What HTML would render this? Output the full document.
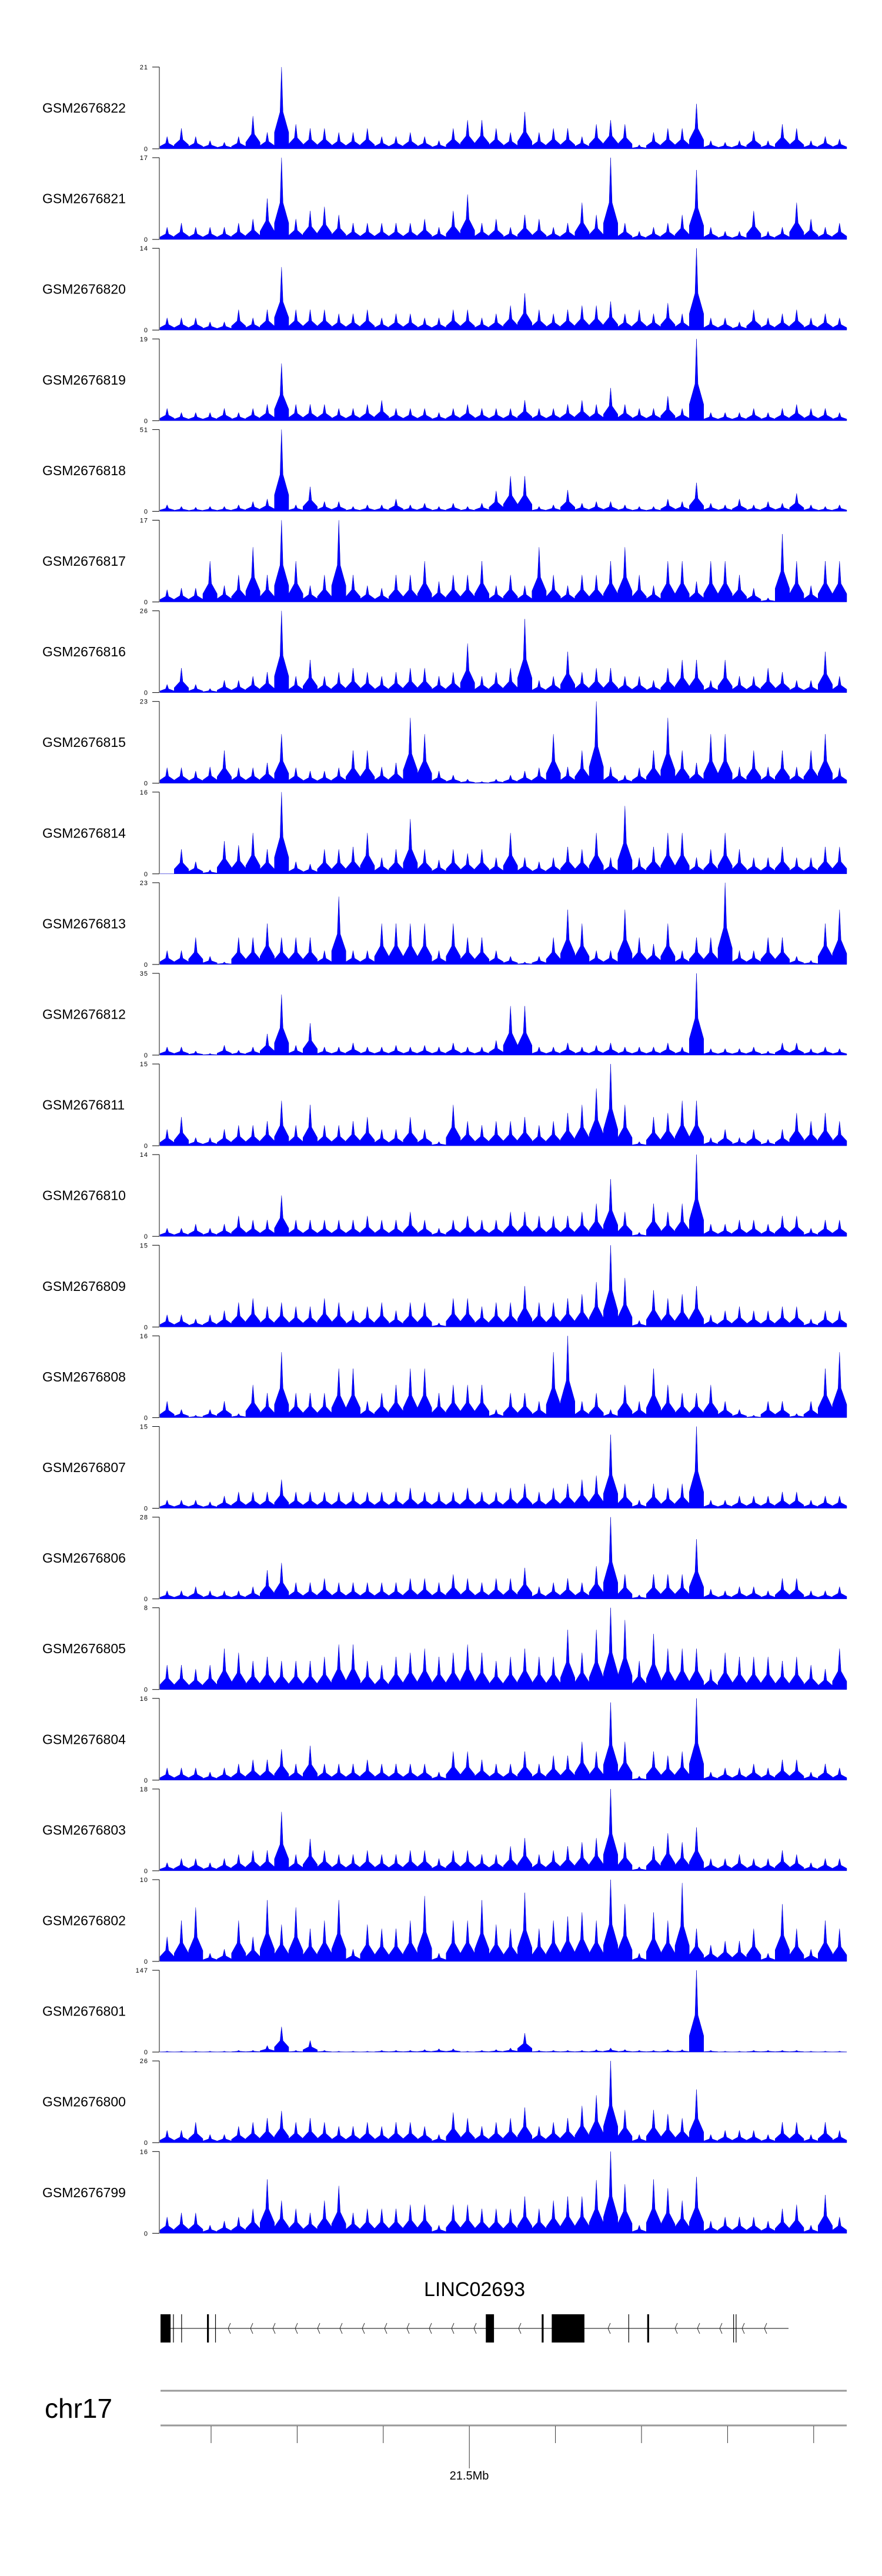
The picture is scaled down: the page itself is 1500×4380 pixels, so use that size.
<!DOCTYPE html>
<html><head><meta charset="utf-8"><style>
html,body{margin:0;padding:0;background:#fff;}
svg{display:block;font-family:"Liberation Sans",sans-serif;}
</style></head><body>
<svg id="chart" width="1500" height="4380" viewBox="0 0 1500 4380" xmlns="http://www.w3.org/2000/svg">
<g id="tracks"></g>
<g id="gene">
<text x="807" y="3904" font-size="34" text-anchor="middle" fill="#000">LINC02693</text>
<line x1="273" y1="3959" x2="1341" y2="3959" stroke="#000" stroke-width="1"/>
</g>
<g id="axis">
<text x="76" y="4111" font-size="46" fill="#000">chr17</text>
<line x1="273" y1="4065" x2="1440" y2="4065" stroke="#999" stroke-width="3"/>
<line x1="273" y1="4124" x2="1440" y2="4124" stroke="#999" stroke-width="3"/>
<text x="798" y="4216" font-size="20" text-anchor="middle" fill="#000">21.5Mb</text>
</g>
</svg>
<script>
const sampleNames=["GSM2676822","GSM2676821","GSM2676820","GSM2676819","GSM2676818","GSM2676817","GSM2676816","GSM2676815","GSM2676814","GSM2676813","GSM2676812","GSM2676811","GSM2676810","GSM2676809","GSM2676808","GSM2676807","GSM2676806","GSM2676805","GSM2676804","GSM2676803","GSM2676802","GSM2676801","GSM2676800","GSM2676799"];
const yMaxes=[21,17,14,19,51,17,26,23,16,23,35,15,14,15,16,15,28,8,16,18,10,147,26,16];
// binned signal (tenths of track max) per sample
const s822=[1.5,2.5,1.5,1,0.8,1.5,4,2,10,3,2.5,2.5,2,2,2.5,1.5,1.5,2,1.5,1,2.5,3.5,3.5,2.5,2,4.5,2,2.5,2.5,1.5,3,3.5,3,0.5,2,2.5,2.5,5.5,1,0.8,1,2.2,1,3,2.5,1,1.5,1.2];
const s821=[1.5,2,1.5,1.5,1.5,2,2.5,5,10,2.5,3.5,4,3,2,2,2,2,2,2.5,1.5,3.5,5.5,2,2.5,1.5,3,2.5,1.5,2,4.5,3,10,2,1,1.5,2,3,8.5,1.5,1,1,3.5,1,1.5,4.5,2.5,1.5,2];
const s820=[1.5,1.5,1.5,1,1,2.5,1.5,2.5,7.7,2.5,2.5,2.5,2,2,2.5,1.5,2,2,1.5,1.5,2.5,2.5,1.5,2,3,4.5,2.5,2,2.5,3,3,3.5,2,2.5,2,3.3,2,10,1.5,1.5,1,2.5,1.5,2,2.5,1.5,2,1.5];
const s819=[1.5,1,1,1,1.5,1,1.5,2,7,2,2,2,1.5,1.5,2,2.5,1.5,1.5,1.5,1,1.5,2,1.5,1.5,1.5,2.5,1.5,1.5,2,2.5,2,4,2,1.5,1.5,3,1.5,10,1,1,1,1.5,1,1.5,2,1.5,1.5,1];
const s818=[0.8,0.6,0.5,0.6,0.6,0.8,1.2,1.5,10,0.8,3,1.2,1.2,0.6,0.8,0.8,1.5,0.8,1,0.6,1,0.6,1,2.5,4.3,4.3,0.6,0.8,2.6,1,1.2,1.2,0.8,0.6,0.6,1.5,1.2,3.5,1,0.8,1.5,0.8,1.2,1,2.2,0.8,0.6,0.8];
const s817=[1.5,1.7,1.7,5,2,3.3,6.7,3.3,10,5,2,3.3,10,3.3,2,1.7,3.3,3.3,5,2.5,3.3,3.3,5,2,3.3,2,6.7,3.3,2,3.3,3.3,5,6.7,3.3,2,5,5,2.5,5,5,3.3,1.7,0.5,8.3,5,2,5,5];
const s816=[1,3,1,0.5,1.5,1.5,2,2.5,10,2,4,2,2.5,3,2.5,2,2.5,3,3,2,2.5,6,2,2.5,3,9,1.5,2,5,2.5,3,3,2,2,1.5,3,4,4,1.5,4,2,2,3,2.5,1.5,1.5,5,2];
const s815=[1.9,1.9,1.5,2,4,1.9,1.9,2.5,6,1.9,1.5,1.5,1.9,4,4,2,2.5,8,6,1.5,1,0.5,0.2,0.5,1,1.5,1.9,6,2,4,10,2,1,1.9,4,8,4,2.5,6,6,2,4,2,4,2,4,6,1.9];
const s814=[0,3,1.5,0.5,4,3.5,5,3,10,1.5,1.2,3,3,3.3,5,2,3,6.7,3,1.7,3,2.5,3,2,5,2,1.5,2,3.3,3,5,2,8.3,2,3.3,5,5,2,3,5,3,2,2,3.3,2,2,3.3,3.3];
const s813=[1.7,1.7,3.3,1,0.3,3.3,3.3,5,3.3,3.3,3.3,1.7,8.3,1.7,1.7,5,5,5,5,1.7,5,3.3,3.3,1.7,1,0.3,1,3.3,6.7,5,1.7,1.7,6.7,3.3,2.5,5,1.7,3.3,3.3,10,1.7,1.7,3.3,3.3,1,0.5,5,6.7];
const s812=[1,1,0.5,0.2,1.2,0.6,1,2.6,7.4,1.2,3.9,1,1,1.5,1,1,1.2,1,1.2,1,1.5,1,1,1.8,6,6,1,1,1.5,1,1.2,1.5,1,1,1,1.5,1,10,0.8,0.8,0.8,1,0.5,1.5,1.5,0.8,1,0.8];
const s811=[2,3.5,1,1,2,2.5,2.5,3,5.5,2.5,5,2.5,2.5,3,3.5,2,2,3.5,2,0.5,5,3,2.5,3,3,3.5,2.5,3,4,5,7,10,5,0.5,3.5,4,5.5,5.5,1,2,1,2,0.8,2,4,3,4,3];
const s810=[1,1,1.5,1,1.5,2.5,2,2,5,2,2,2,2,2,2.5,2,2,3,2,1,2,2.5,2,2,3,3,2.5,2.5,2.5,3,4,7,3,0.5,4,3,4,10,1.5,1.5,2,2,1.5,2.5,2.5,1,2,2];
const s809=[1.5,1.5,1,1.5,2,3,3.5,2.5,3,2.5,2.5,3.5,3,2,2.5,3,2,3,3,0.5,3.5,3.5,2.5,3,3,5,3,3,3.5,4,5.5,10,6,0.8,4.5,3.5,4,5,1.5,2,2.5,2,2,2.5,2.5,1,2,2];
const s808=[2,1,0.3,1,2,0.5,4,3,8,3,3,3,6,6,2,3,4,6,6,3,4,4,4,1,3,3,2,8,10,2,3,1,4,2,6,4,3,3,4,2,1,0.3,2,2,0.5,2,6,8];
const s807=[1,1,1,0.8,1.5,2,2,2,3.5,2,2,2,2,2,2,2,2,2.5,2,2,2,2.5,2,2,2.5,3,2,2.5,3,3.5,4,9,3,1,3,2.5,3,10,1,1,1.5,1.5,1.5,2,2,1,1.5,1.5];
const s806=[1,1,1.5,1,1,1,1.5,3.5,4.4,2,2,2.5,2,2,2,2,2,2.5,2.5,2,3,2.5,2,2.5,2.5,3.8,1.5,2,2.5,2,4,10,3,0.5,3,3,3,7.3,1.2,1,1.5,1.5,1,2.5,2.5,1,1,1.5];
const s805=[3,3,2.5,3,5,4.5,3.5,4,3.5,3.5,3.5,4,5.5,5.5,3.5,3,4,4.5,5,4,4.5,5.5,4.5,3.5,4,5,4,4,7.3,4.5,7.3,10,8.5,3.5,6.8,5,5,5,2.5,4.5,4,4,4,3.5,4,3,2.5,5];
const s804=[1.5,1.5,1.5,1,1.5,2,2.5,2.5,3.8,2,4.2,2,2,2,2.5,2,2,2,2,1,3.5,3.5,2.5,2,2,3.5,2,3,3,4.7,3.5,9.5,4.7,0.5,3.5,3,3.5,10,1,1.5,1.5,2,1.5,2.5,2.5,1,2,1.5];
const s803=[1,1.5,1.5,1,1.5,2,2.5,2.5,7.2,2,3.9,2.5,2,2,2.5,2,2,2.5,2.5,1.5,2.5,2.5,2,2,3,4,2,2.5,3,3.5,4,10,3.5,0.5,3,4.6,3.5,5.3,1.5,1.5,2,1.5,1.5,2.5,2,1,1.5,1.5];
const s802=[3,5,6.6,1,1.5,5,3,7.5,4.5,6.6,4,5,7.5,1.5,4.5,4,4,5,8,1,5,5,7.5,4.5,4,8.4,4,5,5.5,6,5,10,7,1,6,5,9.6,4,2,2.5,2.5,4,1,7,4,1.5,5,4];
const s801=[0.1,0.1,0.1,0.1,0.1,0.2,0.2,0.8,3.1,0.2,1.4,0.2,0.1,0.1,0.1,0.2,0.2,0.2,0.3,0.4,0.4,0.1,0.2,0.3,0.5,2.3,0.2,0.2,0.2,0.2,0.3,0.5,0.3,0.2,0.2,0.3,0.3,10,0.2,0.1,0.1,0.2,0.2,0.2,0.2,0.1,0.1,0.1];
const s800=[1.5,1.5,2.5,1,1,2,2.5,3,3.9,2.5,3,2.5,2,2,2.5,2,2.5,2.5,2,1,3.7,3,2,2.5,3,4.3,2,2.5,3,4.5,5.8,10,4,1,4,3.5,3,6.5,1,1.5,1.5,1.5,1,2.5,2.5,1,2.5,1.5];
const s799=[2,2.5,2.5,1,1.5,2,3,6.6,4,3,2.5,4,5.8,2.5,3,3,3,3.5,3.5,1,3.5,3.5,3,3,3,4.5,3,4,4.5,4.5,6.5,10,6,1,6.6,5.5,4,6.9,1.5,2,2,2,1.5,3,3.5,1,4.7,2];
const seriesList=[s822,s821,s820,s819,s818,s817,s816,s815,s814,s813,s812,s811,s810,s809,s808,s807,s806,s805,s804,s803,s802,s801,s800,s799];
const axisTicks=["21.5Mb"];
// gene model: exon [start,end] in plot fraction
const exonStarts=[0,0.02,0.033,0.074,0.087,0.518,0.607,0.623,0.745,0.775,0.912,0.916];
const exonEnds=[0.016,0.021,0.034,0.077,0.088,0.531,0.61,0.675,0.746,0.778,0.913,0.917];

const NS="http://www.w3.org/2000/svg";
const X0=272,X1=1440,TOP0=114,STEP=154.1,H=139;
function mk(tag,attrs,parent){const e=document.createElementNS(NS,tag);for(const k in attrs)e.setAttribute(k,attrs[k]);parent.appendChild(e);return e;}
function xScale(f){return X0+f*(X1-X0);}
const gT=document.getElementById('tracks');
sampleNames.forEach((name,t)=>{
  const top=TOP0+t*STEP, zero=top+H, mx=yMaxes[t];
  const yScale=v=>zero-v/mx*H;
  const g=mk('g',{},gT);
  
  
  const lab=mk('text',{x:72,y:top+H/2+8,'font-size':23,fill:'#000'},g);
  lab.textContent=name;
  
  
  const ax=mk('line',{x1:271,y1:top,x2:271,y2:zero,stroke:'#888','stroke-width':2},g);
  
  
  [[mx,top],[0,zero]].forEach(([v,y])=>{
    const tk=mk('line',{x1:259,y1:y,x2:271,y2:y,stroke:'#000','stroke-width':1},g);
    
    
    const tl=mk('text',{x:252,y:y+4,'font-size':11,'text-anchor':'end',fill:'#000','letter-spacing':'1'},g);
    tl.textContent=String(v);
    
    
  });
  const arr=seriesList[t], n=arr.length, bw=(X1-X0)/n;
  let d='M'+X0+','+zero;
  arr.forEach((f,i)=>{
    const v=f/10*mx;
    const x0=xScale(i/n), xc=xScale((i+0.5)/n), x1=xScale((i+1)/n);
    d+=' L'+x0.toFixed(1)+','+yScale(v*0.2).toFixed(1)+' L'+(xc-2.5).toFixed(1)+','+yScale(v*0.45).toFixed(1)+' L'+xc.toFixed(1)+','+yScale(v).toFixed(1)+' L'+(xc+2.5).toFixed(1)+','+yScale(v*0.45).toFixed(1)+' L'+x1.toFixed(1)+','+yScale(v*0.2).toFixed(1);
  });
  d+=' L'+X1+','+zero+' Z';
  const p=mk('path',{d:d,fill:'#0000ff',stroke:'#0000cc','stroke-width':0.5},g);
  
  
});
// gene
const gG=document.getElementById('gene');
const GX0=273,GX1=1341;
const gx=f=>GX0+f*(GX1-GX0);
for(let x=312;x<1335;x+=38){
  let inside=false;
  exonStarts.forEach((s,i)=>{if(x>=gx(s)-4&&x<=gx(exonEnds[i])+8)inside=true;});
  if(inside)continue;
  const a=mk('polyline',{points:(x+4)+',3950 '+x+',3959 '+(x+4)+',3968',fill:'none',stroke:'#333','stroke-width':1},gG);
  
  
}
exonStarts.forEach((s,i)=>{
  const x=gx(s), w=Math.max(1.2,gx(exonEnds[i])-x);
  const r=mk('rect',{x:x,y:3935,width:w,height:48,fill:'#000'},gG);
  
  
});
// axis ticks
const gA=document.getElementById('axis');
const tickStart=359, tickStep=146.4;
for(let i=0;i<8;i++){
  const x=tickStart+i*tickStep;
  const major=(i===3);
  const l=mk('line',{x1:x,y1:4125,x2:x,y2:major?4197:4154,stroke:'#333','stroke-width':1},gA);
  
  
}
</script>
</body></html>
